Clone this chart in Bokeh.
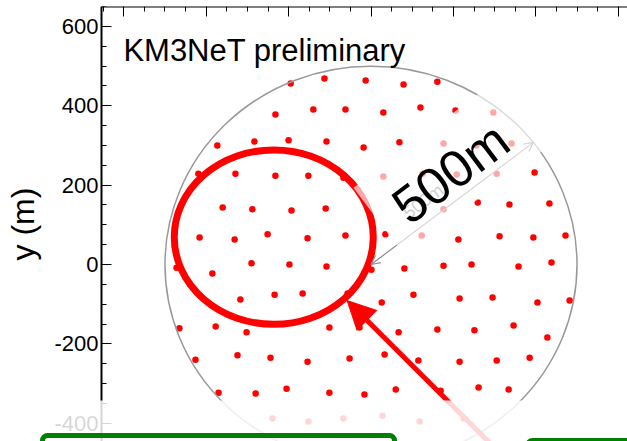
import math

from bokeh.plotting import figure
from bokeh.models import (Range1d, SingleIntervalTicker, Arrow, NormalHead, OpenHead,
                          Label, BoxAnnotation, PolyAnnotation, PrintfTickFormatter,
                          CustomJSTickFormatter)
from bokeh.embed import file_html
from bokeh.resources import INLINE

FONT = "Liberation Sans"

# Detector footprint
RADIUS = 500            # radius of the instrumented area (m)
ARROW_ANGLE_DEG = 38    # direction of the radius marker

# Detection-unit positions (m), listed row by row from top to bottom
dom_x = [
    -195, -113, -13, 79, 161,
    -232, -140, -62, 30, 120, 205, 297,
    -373, -283, -200, -108, -18, 69, 176, 256, 341,
    -419, -329, -232, -152, -67, 30, 125, 208, 305, 397,
    -360, -288, -193, -110, 176, 259, 336, 433,
    -416, -331, -251, -154, -62, 35, 123, 212, 312, 394, 472,
    -472, -385, -290, -198, -108, 1, 81, 176, 244, 358, 438,
    -317, -234, -166, -57, 26, 103, 215, 295, 404, 482,
    -465, -377, -302, -101, -28, 67, 161, 251, 346, 428,
    -426, -324, -244, -154, -52, 33, 115, 215, 305, 385,
    -370, -280, -205, -101, -16, 60, 169, 261, 334,
    -239, -152, -67, 28, 118, 225,
]
dom_y = [
    456, 469, 464, 454, 461,
    378, 391, 391, 383, 396, 388, 383,
    300, 310, 313, 310, 295, 308, 305, 300, 305,
    229, 229, 224, 224, 219, 222, 229, 227, 229, 232,
    144, 139, 136, 141, 139, 156, 151, 154,
    68, 63, 76, 66, 73, 76, 73, 63, 71, 68, 73,
    -8, -23, 3, 0, -5, -13, -10, -3, 0, -5, 5,
    -88, -76, -73, -73, -96, -76, -86, -83, -96, -91,
    -161, -156, -171, -159, -159, -171, -164, -166, -154, -184,
    -240, -229, -235, -245, -237, -227, -242, -245, -242, -235,
    -323, -325, -313, -323, -328, -315, -318, -310, -315,
    -388, -396, -388, -381, -396, -388,
]

# Highlighted sub-block (ellipse centre, full width and height in m)
sub_x, sub_y = -236, 69
sub_w, sub_h = 483, 440

# Pointer towards the sub-block (tip and tail, m)
ptr_tip = (-58, -91)
ptr_tail = (331, -494)

W, H = 627, 441
TOP = 6
AXIS_X = -654.1          # x position (m) of the vertical axis
X_END = 622.5
Y_START, Y_END = -446.2, 650.4
AXIS_PX = 101            # pixels left of the vertical axis
kx = (W - AXIS_PX) / (X_END - AXIS_X)      # px per metre
X_START = AXIS_X - AXIS_PX / kx
ky = (H - TOP) / (Y_END - Y_START)

p = figure(width=W, height=H,
           x_range=Range1d(X_START, X_END), y_range=Range1d(Y_START, Y_END),
           x_axis_location="above", y_axis_location="left",
           toolbar_location=None, output_backend="svg",
           min_border_left=0, min_border_right=0,
           min_border_top=TOP, min_border_bottom=0,
           outline_line_color=None,
           background_fill_color="white", border_fill_color="white")
p.grid.visible = False

# vertical axis, pinned inside the frame
ya = p.yaxis[0]
ya.fixed_location = AXIS_X
ya.ticker = SingleIntervalTicker(interval=200, num_minor_ticks=4)
ya.formatter = PrintfTickFormatter(format="%d")
ya.axis_label = "y (m)"
ya.axis_label_text_font = FONT
ya.axis_label_text_font_size = "32px"
ya.axis_label_text_font_style = "normal"
ya.axis_label_text_color = "black"
ya.axis_label_standoff = 10
ya.major_label_text_font = FONT
ya.major_label_text_font_size = "22px"
ya.major_label_text_color = "black"
ya.major_label_standoff = 3
ya.axis_line_width = 2
ya.axis_line_color = "black"
ya.major_tick_in = 10
ya.major_tick_out = 0
ya.minor_tick_in = 5
ya.minor_tick_out = 0
ya.major_tick_line_color = "black"
ya.minor_tick_line_color = "black"

# top axis: ticks only
xa = p.xaxis[0]
xa.fixed_location = Y_END
xa.bounds = (AXIS_X, X_END)
xa.ticker = SingleIntervalTicker(interval=200, num_minor_ticks=4)
xa.formatter = CustomJSTickFormatter(code="return ''")
xa.axis_line_width = 2
xa.axis_line_color = "black"
xa.major_tick_in = 10
xa.major_tick_out = 0
xa.minor_tick_in = 5
xa.minor_tick_out = 0
xa.major_tick_line_color = "black"
xa.minor_tick_line_color = "black"

# detection units
p.scatter(dom_x, dom_y, size=6.5, marker="circle", fill_color="#ff0000", line_color=None)

# detector boundary
p.ellipse(x=[0], y=[0], width=[2 * RADIUS], height=[2 * RADIUS],
          fill_color=None, line_color="#999999", line_width=1.5)

# highlighted sub-block
p.ellipse(x=[sub_x], y=[sub_y], width=[sub_w], height=[sub_h],
          fill_color=None, line_color="#ff0000", line_width=7)

ang = math.radians(ARROW_ANGLE_DEG)
rx, ry = RADIUS * math.cos(ang), RADIUS * math.sin(ang)
scr_ang = math.atan2(ry * ky, rx * kx)

# small radius tag along the marker
p.add_layout(Label(x=127, y=159, text=f"{RADIUS}m", angle=scr_ang,
                   text_align="center", text_baseline="middle",
                   text_font=FONT, text_font_size="18px", text_color="#777777"))

# radius marker
p.add_layout(Arrow(start=OpenHead(size=9, line_color="#8c8c8c", line_width=1.2),
                   end=OpenHead(size=9, line_color="#8c8c8c", line_width=1.2),
                   x_start=0, y_start=0, x_end=rx, y_end=ry,
                   line_color="#8c8c8c", line_width=1.2))

# translucent backing behind the big radius label
cx, cy = 197.1, 248.1
hw, hh = 92, 42
ux, uy = math.cos(scr_ang), math.sin(scr_ang)      # along text (screen, y up)
nx, ny = -math.sin(scr_ang), math.cos(scr_ang)     # across text (screen, y up)
poly_x, poly_y = [], []
for su, sn in [(-1, -1), (1, -1), (1, 1), (-1, 1)]:
    dx = su * hw * ux + sn * hh * nx
    dy = su * hw * uy + sn * hh * ny
    poly_x.append(cx + dx / kx)
    poly_y.append(cy + dy / ky)
p.add_layout(PolyAnnotation(xs=poly_x, ys=poly_y, fill_color="white", fill_alpha=0.65,
                            line_color=None))

p.add_layout(Label(x=193, y=231, text=f"{RADIUS}m", angle=scr_ang,
                   text_align="center", text_baseline="middle",
                   text_font=FONT, text_font_size="52px", text_color="black"))

p.add_layout(Label(x=-601, y=539.5, text="KM3NeT preliminary",
                   text_align="left", text_baseline="alphabetic",
                   text_font=FONT, text_font_size="31px", text_color="black"))

# pointer
p.add_layout(Arrow(end=NormalHead(size=28, fill_color="#ff0000", line_color="#ff0000"),
                   x_start=ptr_tail[0], y_start=ptr_tail[1],
                   x_end=ptr_tip[0], y_end=ptr_tip[1],
                   line_color="#ff0000", line_width=5))

# fade-out band at the bottom
p.add_layout(BoxAnnotation(left=0, right=W, top=400, bottom=H + 20,
                           left_units="canvas", right_units="canvas",
                           top_units="canvas", bottom_units="canvas",
                           fill_color="white", fill_alpha=0.84, line_color=None))

# green panels below
for l, r, t in [(42, 394, 435), (527, 700, 440)]:
    p.add_layout(BoxAnnotation(left=l, right=r, top=t, bottom=H + 40,
                               left_units="canvas", right_units="canvas",
                               top_units="canvas", bottom_units="canvas",
                               fill_color="white", fill_alpha=0,
                               line_color="#008000", line_alpha=1.0, line_width=5,
                               border_radius=5))

open("out.html", "w").write(file_html(p, INLINE))
